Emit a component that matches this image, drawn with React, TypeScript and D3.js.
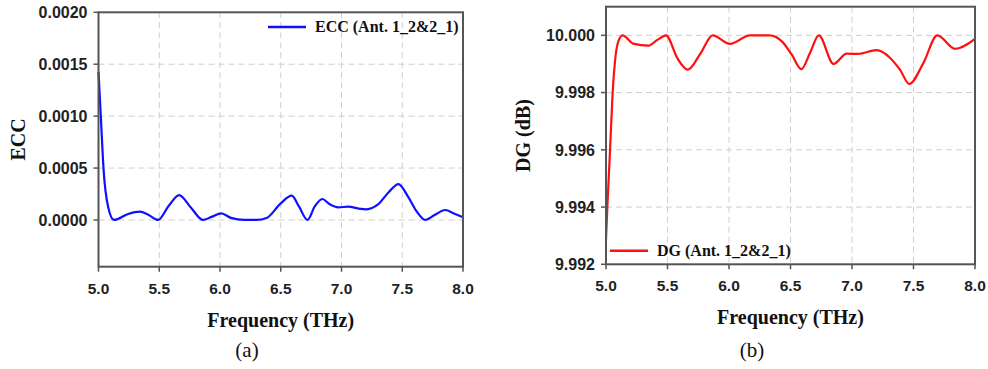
import React from 'react';
import * as d3 from 'd3';

// ECC (Ant. 1_2&2_1)
const eccFreq = [5.0, 5.019, 5.041, 5.079, 5.128, 5.244, 5.34, 5.41, 5.49, 5.58, 5.664, 5.76, 5.86, 5.93, 6.01, 6.09, 6.2, 6.3, 6.384, 6.5, 6.59, 6.65, 6.72, 6.78, 6.842, 6.9, 6.974, 7.056, 7.14, 7.207, 7.3, 7.39, 7.468, 7.55, 7.62, 7.688, 7.77, 7.853, 7.93, 8.0];
const eccValues = [0.001426, 0.001, 0.0005, 0.000128, 0.0, 0.000058, 0.00008, 0.00005, 0.0, 0.00014, 0.00024, 0.00012, 0.0, 0.00003, 0.000064, 0.00002, 0.0, 0.0, 0.00002, 0.00016, 0.000234, 0.00013, 0.0, 0.00013, 0.000202, 0.000154, 0.000122, 0.000128, 0.00011, 0.000103, 0.00015, 0.00027, 0.000346, 0.00022, 0.00008, 0.0, 0.00005, 0.000096, 0.00006, 0.000026];

// DG (Ant. 1_2&2_1)
const dgFreq = [5.0, 5.011, 5.033, 5.054, 5.073, 5.1, 5.135, 5.222, 5.344, 5.42, 5.488, 5.58, 5.664, 5.77, 5.867, 6.008, 6.17, 6.33, 6.43, 6.51, 6.588, 6.66, 6.73, 6.85, 6.957, 7.05, 7.2, 7.31, 7.39, 7.466, 7.58, 7.694, 7.837, 8.0];
const dgValues = [9.99286, 9.994, 9.996, 9.998, 9.99909, 9.99979, 10.0, 9.99971, 9.99964, 9.99985, 10.0, 9.9992, 9.9988, 9.99938, 10.0, 9.9997, 10.0, 10.0, 9.99979, 9.99933, 9.99882, 9.9994, 10.0, 9.999, 9.99936, 9.99935, 9.99948, 9.99921, 9.9988, 9.9983, 9.99903, 10.0, 9.99953, 9.99988];

const freqTicks = [5.0, 5.5, 6.0, 6.5, 7.0, 7.5, 8.0];
const eccTicks = [0.0, 0.0005, 0.001, 0.0015, 0.002];
const dgTicks = [9.992, 9.994, 9.996, 9.998, 10.0];

const frameColor = '#555';
const gridColor = '#cfcfcf';
const sansBold = '"Liberation Sans", Arial, sans-serif';
const serif = '"Liberation Serif", "Times New Roman", serif';

type PanelProps = {
  box: { left: number; right: number; top: number; bottom: number };
  xs: number[];
  ys: number[];
  yDomain: [number, number];
  yTicks: number[];
  yFormat: (v: number) => string;
  color: string;
  yTitle: string;
  yTitleX: number;
  legend: { x: number; y: number; text: string };
  caption: { x: number; text: string };
};

const Panel = ({ box, xs, ys, yDomain, yTicks, yFormat, color, yTitle, yTitleX, legend, caption }: PanelProps) => {
  const x = d3.scaleLinear().domain([5, 8]).range([box.left, box.right]);
  const y = d3.scaleLinear().domain(yDomain).range([box.bottom, box.top]);
  const line = d3.line<number>()
    .x((_, i) => x(xs[i]))
    .y((d) => y(d))
    .curve(d3.curveMonotoneX);
  const midY = (box.top + box.bottom) / 2;
  const midX = (box.left + box.right) / 2;

  return (
    <g>
      {/* grid */}
      {freqTicks.slice(1, -1).map((t) => (
        <line key={'gx' + t} x1={x(t)} x2={x(t)} y1={box.top} y2={box.bottom}
          stroke={gridColor} strokeWidth={1} strokeDasharray="6,4" />
      ))}
      {yTicks.filter((t) => y(t) > box.top + 1 && y(t) < box.bottom - 1).map((t) => (
        <line key={'gy' + t} x1={box.left} x2={box.right} y1={y(t)} y2={y(t)}
          stroke={gridColor} strokeWidth={1} strokeDasharray="6,4" />
      ))}

      {/* curve */}
      <path d={line(ys) || ''} fill="none" stroke={color} strokeWidth={2.2} strokeLinejoin="round" />

      {/* frame */}
      <rect x={box.left} y={box.top} width={box.right - box.left} height={box.bottom - box.top}
        fill="none" stroke={frameColor} strokeWidth={2} />

      {/* x ticks */}
      {freqTicks.map((t) => (
        <g key={'tx' + t}>
          <line x1={x(t)} x2={x(t)} y1={box.bottom} y2={box.bottom + 5} stroke={frameColor} strokeWidth={1.5} />
          <text x={x(t)} y={box.bottom + 27} textAnchor="middle" fontFamily={sansBold}
            fontWeight="bold" fontSize={15.5} fill="#222">{t.toFixed(1)}</text>
        </g>
      ))}

      {/* y ticks */}
      {yTicks.map((t) => (
        <g key={'ty' + t}>
          <line x1={box.left - 5} x2={box.left} y1={y(t)} y2={y(t)} stroke={frameColor} strokeWidth={1.5} />
          <text x={box.left - 11} y={y(t)} dy="0.36em" textAnchor="end" fontFamily={sansBold}
            fontWeight="bold" fontSize={16} fill="#222">{yFormat(t)}</text>
        </g>
      ))}

      {/* axis titles */}
      <text x={midX} y={box.bottom + 60} textAnchor="middle" fontFamily={serif}
        fontWeight="bold" fontSize={20} fill="#111">Frequency (THz)</text>
      <text transform={`translate(${yTitleX},${midY}) rotate(-90)`} textAnchor="middle"
        fontFamily={serif} fontWeight="bold" fontSize={20} fill="#111">{yTitle}</text>

      {/* legend */}
      <line x1={legend.x} x2={legend.x + 38} y1={legend.y} y2={legend.y} stroke={color} strokeWidth={2.5} />
      <text x={legend.x + 47} y={legend.y + 5} fontFamily={serif} fontWeight="bold" fontSize={16} fill="#111">
        {legend.text}
      </text>

      {/* caption */}
      <text x={caption.x} y={357} textAnchor="middle" fontFamily={serif} fontSize={21} fill="#111">
        {caption.text}
      </text>
    </g>
  );
};

export default function App() {
  return (
    <svg width={988} height={369} style={{ position: 'absolute', left: 0, top: 0, background: '#fff' }}>
      <Panel
        box={{ left: 98.5, right: 463, top: 12.3, bottom: 266.7 }}
        xs={eccFreq}
        ys={eccValues}
        yDomain={[-0.00045, 0.002]}
        yTicks={eccTicks}
        yFormat={(v) => v.toFixed(4)}
        color="#1010ff"
        yTitle="ECC"
        yTitleX={25}
        legend={{ x: 268, y: 27, text: 'ECC (Ant. 1_2&2_1)' }}
        caption={{ x: 247, text: '(a)' }}
      />
      <Panel
        box={{ left: 606, right: 975, top: 6.7, bottom: 264.3 }}
        xs={dgFreq}
        ys={dgValues}
        yDomain={[9.992, 10.001]}
        yTicks={dgTicks}
        yFormat={(v) => v.toFixed(3)}
        color="#ff1010"
        yTitle="DG (dB)"
        yTitleX={530}
        legend={{ x: 610, y: 250.7, text: 'DG (Ant. 1_2&2_1)' }}
        caption={{ x: 752, text: '(b)' }}
      />
    </svg>
  );
}
